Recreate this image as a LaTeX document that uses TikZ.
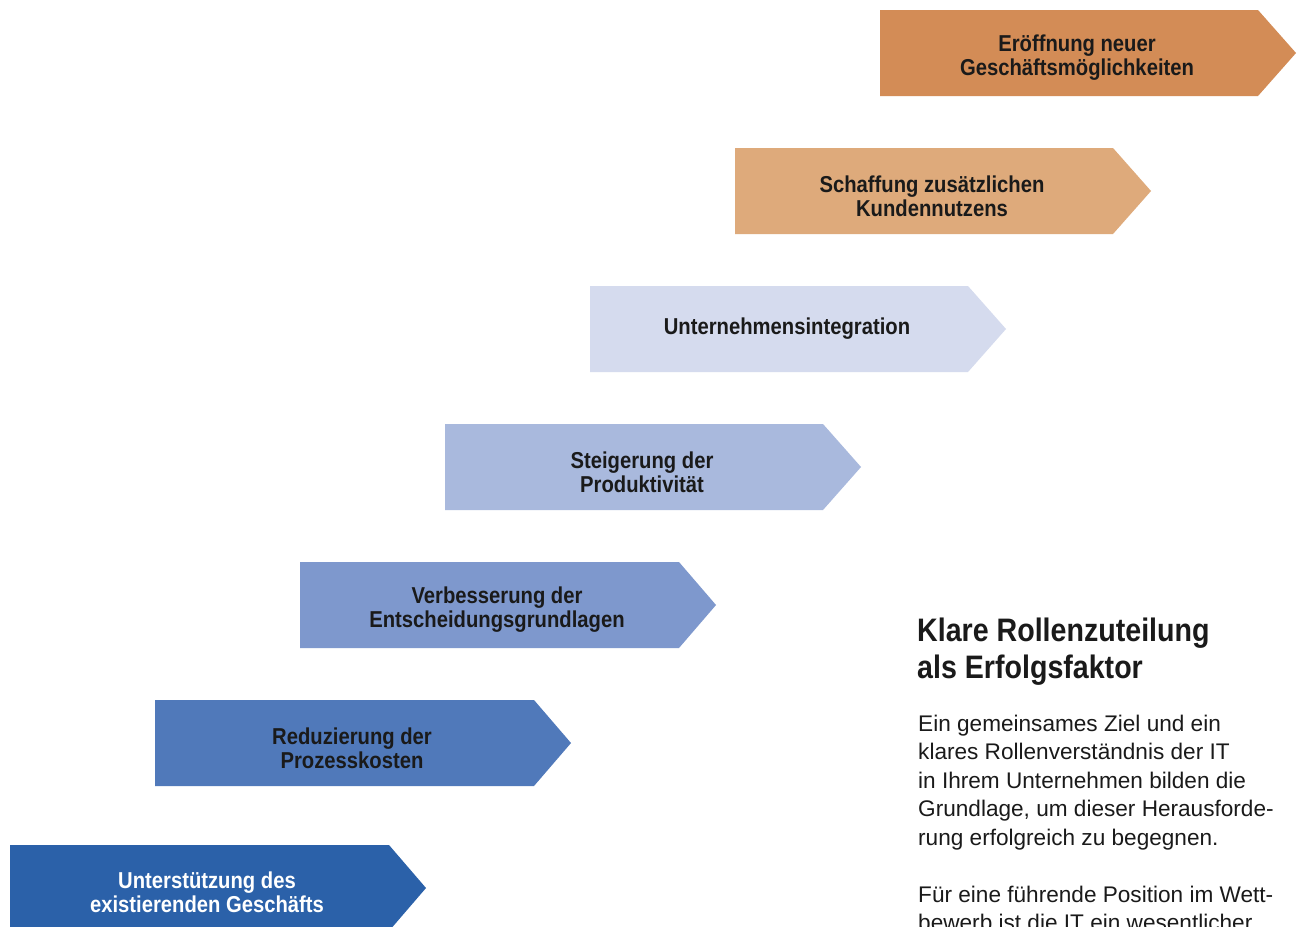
\documentclass[tikz,border=0pt]{standalone}
\usepackage{fontspec}
\setmainfont{Liberation Sans}
\newfontfamily\condb{Liberation Sans}[FakeStretch=0.88]
\definecolor{cA}{HTML}{D38C56}
\definecolor{cB}{HTML}{DEAA7B}
\definecolor{cC}{HTML}{D5DBEE}
\definecolor{cD}{HTML}{A9B9DD}
\definecolor{cE}{HTML}{7E98CD}
\definecolor{cF}{HTML}{5079BA}
\definecolor{cG}{HTML}{2B61A9}
\definecolor{ink}{HTML}{1A1A1A}
\tikzset{
  lbl/.style={inner sep=0pt, align=center, text=ink,
    font=\condb\bfseries\fontsize{23}{24}\selectfont},
  ttl/.style={inner sep=0pt, anchor=base west, text=ink,
    font=\condb\bfseries\fontsize{32.5}{37}\selectfont},
  body/.style={inner sep=0pt, anchor=base west, text=ink,
    font=\fontsize{22.6}{28.7}\selectfont},
}
\begin{document}
\begin{tikzpicture}[x=1pt,y=-1pt]
\useasboundingbox (0,0) rectangle (1303,926);
\fill[white] (0,0) rectangle (1303,926);
% chevrons
\fill[cA] (880,10) -- ++(378,0) -- ++(38,43) -- ++(-38,43) -- ++(-378,0) -- cycle;
\node[lbl] (a1) at (1077,58) {Eröffnung neuer\\Geschäftsmöglichkeiten};
\fill[cB] (735,148) -- ++(378,0) -- ++(38,43) -- ++(-38,43) -- ++(-378,0) -- cycle;
\node[lbl] (a2) at (932,196) {Schaffung zusätzlichen\\Kundennutzens};
\fill[cC] (590,286) -- ++(378,0) -- ++(38,43) -- ++(-38,43) -- ++(-378,0) -- cycle;
\node[lbl] (a3) at (787,329) {Unternehmensintegration};
\fill[cD] (445,424) -- ++(378,0) -- ++(38,43) -- ++(-38,43) -- ++(-378,0) -- cycle;
\node[lbl] (a4) at (642,472) {Steigerung der\\Produktivität};
\fill[cE] (300,562) -- ++(379,0) -- ++(37,43) -- ++(-37,43) -- ++(-379,0) -- cycle;
\node[lbl] (a5) at (497,610) {Verbesserung der\\Entscheidungsgrundlagen};
\fill[cF] (155,700) -- ++(379,0) -- ++(37,43) -- ++(-37,43) -- ++(-379,0) -- cycle;
\node[lbl] (a6) at (352,748) {Reduzierung der\\Prozesskosten};
\fill[cG] (10,845) -- ++(379,0) -- ++(37,43) -- ++(-37,43) -- ++(-379,0) -- cycle;
\node[lbl,text=white] (a7) at (207,892) {Unterstützung des\\existierenden Geschäfts};
% title
\node[ttl] (t1) at (917,641) {Klare Rollenzuteilung};
\node[ttl] (t2) at (917,678) {als Erfolgsfaktor};
% body
\node[body] (b1) at (918,731) {Ein gemeinsames Ziel und ein};
\node[body] (b2) at (918,759.5) {klares Rollenverständnis der IT};
\node[body] (b3) at (918,788) {in Ihrem Unternehmen bilden die};
\node[body] (b4) at (918,816.5) {Grundlage, um dieser Herausforde-};
\node[body] (b5) at (918,845) {rung erfolgreich zu begegnen.};
\node[body] (b6) at (918,902) {Für eine führende Position im Wett-};
\node[body] (b7) at (918,930.5) {bewerb ist die IT ein wesentlicher};
\end{tikzpicture}
\end{document}
